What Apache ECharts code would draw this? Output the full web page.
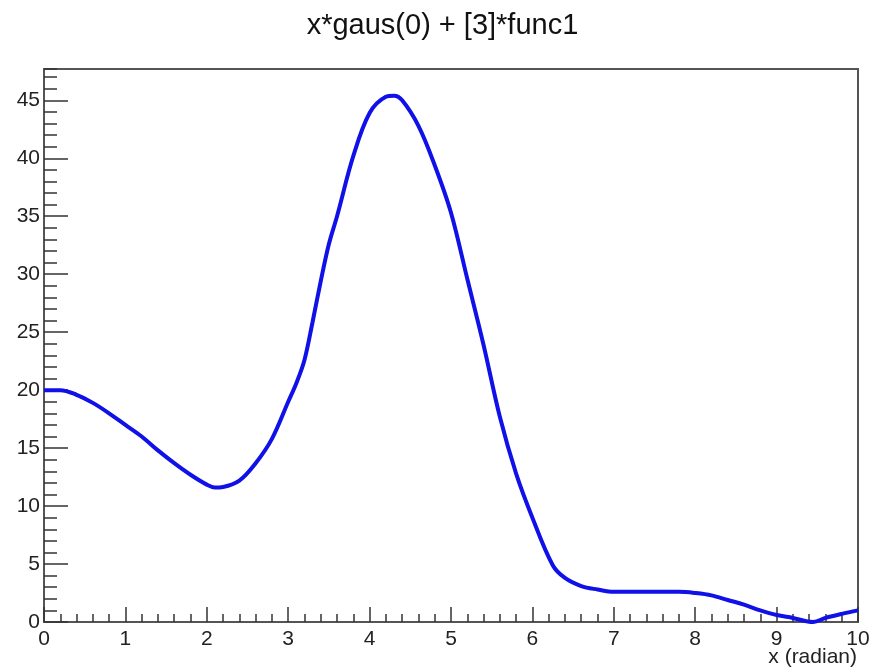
<!DOCTYPE html>
<html>
<head>
    <meta charset="utf-8">
    <script src="https://cdn.jsdelivr.net/npm/echarts@6/dist/echarts.min.js"></script>
</head>
<body style="margin:0;background:#fff;">
    <div id="main" style="width:885px;height:672px;"></div>
    <script type="text/javascript">
        // values
        var xs = [0, 0.2, 0.4, 0.6, 0.8, 1.0, 1.2, 1.4, 1.6, 1.8, 2.0, 2.1, 2.2, 2.4, 2.6, 2.8,
                  3.0, 3.1, 3.2, 3.3, 3.4, 3.5, 3.6, 3.8, 4.0, 4.2, 4.3, 4.4, 4.6, 4.8, 5.0, 5.2, 5.4, 5.6,
                  5.8, 6.0, 6.25, 6.4, 6.6, 6.8, 7.0, 7.4, 7.8, 8.0, 8.2, 8.4, 8.6, 8.8, 9.0,
                  9.2, 9.45, 9.6, 9.8, 10.0];
        var ys = [20.0, 20.0, 19.6, 18.9, 18.0, 17.0, 16.0, 14.8, 13.7, 12.7, 11.85, 11.6, 11.65, 12.2, 13.7, 15.8,
                  19.0, 20.6, 22.6, 25.9, 29.4, 32.6, 35.0, 40.2, 43.9, 45.3, 45.4, 45.0, 42.8, 39.4, 35.3, 29.6, 23.9, 17.7,
                  12.8, 9.0, 4.9, 3.8, 3.1, 2.8, 2.6, 2.6, 2.6, 2.5, 2.3, 1.9, 1.5, 1.0, 0.6,
                  0.35, 0.0, 0.35, 0.7, 1.0];
        var titleText = 'x*gaus(0) + [3]*func1';
        var xName = 'x (radian)';

        var pts = [];
        for (var i = 0; i < xs.length; i++) {
            pts.push([xs[i], ys[i]]);
        }

        var axisCol = '#555';
        var font = 'Liberation Sans, Arial, sans-serif';

        var myChart = echarts.init(document.getElementById('main'));
        var option = {
            animation: false,
            title: {
                text: titleText,
                left: 'center',
                top: 6,
                textStyle: { fontFamily: font, fontSize: 29, fontWeight: 'normal', color: '#111' }
            },
            graphic: [{
                type: 'text',
                right: 28,
                top: 647,
                style: { text: xName, font: '21px ' + font, fill: '#222' }
            }],
            grid: {
                left: 44, top: 69, right: 27, bottom: 50,
                show: true, borderColor: axisCol, borderWidth: 2
            },
            xAxis: {
                type: 'value', min: 0, max: 10, interval: 1,
                axisLine: { lineStyle: { color: axisCol, width: 2 } },
                axisTick: { inside: true, length: 15, lineStyle: { color: '#333', width: 1.5 } },
                minorTick: { show: true, splitNumber: 5, length: 8, lineStyle: { color: '#333', width: 1.5 } },
                axisLabel: { fontFamily: font, fontSize: 21, color: '#222', margin: 7 },
                splitLine: { show: false }
            },
            yAxis: [{
                type: 'value', min: 0, max: 47.7, interval: 5,
                axisLine: { show: true, lineStyle: { color: axisCol, width: 2 } },
                axisTick: { show: true, inside: true, length: 24, lineStyle: { color: '#333', width: 1.5 } },
                axisLabel: { fontFamily: font, fontSize: 21, color: '#222', margin: 4, showMaxLabel: false },
                splitLine: { show: false }
            }, {
                type: 'value', min: 0, max: 47.7, interval: 1, position: 'left',
                axisLine: { show: false },
                axisTick: { show: true, inside: true, length: 13, lineStyle: { color: '#333', width: 1.5 } },
                axisLabel: { show: false },
                splitLine: { show: false }
            }],
            series: [{
                type: 'line',
                data: pts,
                smooth: 0.35,
                showSymbol: false,
                lineStyle: { color: '#1010e8', width: 4 }
            }]
        };
        myChart.setOption(option);
    </script>
</body>
</html>
